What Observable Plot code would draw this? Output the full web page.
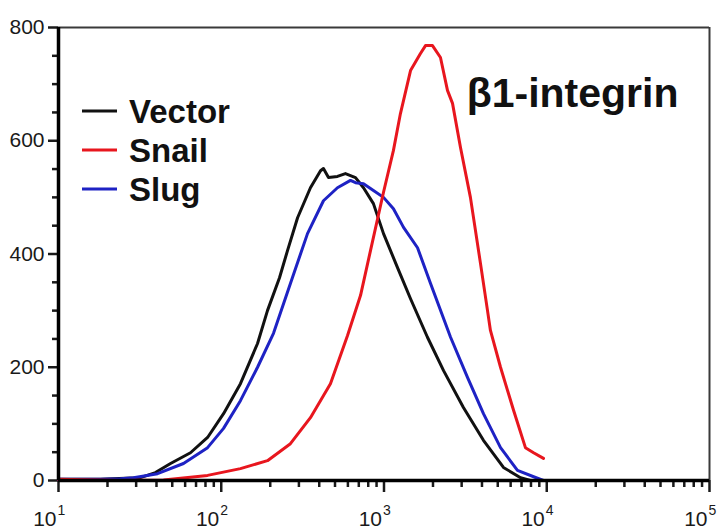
<!DOCTYPE html>
<html><head><meta charset="utf-8">
<script src="https://cdn.jsdelivr.net/npm/d3@7"></script>
<script src="https://cdn.jsdelivr.net/npm/@observablehq/plot@0.6"></script>
<style>
body{margin:0;background:#fff}
#chart{position:relative;width:720px;height:530px}
g[aria-label="y-axis tick"], g[aria-label="x-axis tick"] { stroke-width: 2.5px; }
</style>
</head><body><div id="chart"></div>
<script>
const seriesNames = ["Vector", "Snail", "Slug"];
const seriesColors = ["#111111", "#e8161e", "#1e22c4"];

const vectorX = [10,18.1,25.8,31.9,39.4,48.8,64.7,82.4,103.3,131.2,167.1,192.3,228.0,255.3,294.4,353.2,407.4,424.6,456,517.6,579.4,668.3,748.2,861,993.1,1210.6,1455.5,1849.3,2322.7,3076.1,4083.2,5420,6902.4,7943.3];
const vectorY = [2,2,4,5,14,30,49,76,118,171,242,300,358,406,464,517,547,551,535,537,542,535,517,489,436,376,321,253,194,129,71,23,5,0];

const slugX = [10,18.1,24.0,28.9,40.6,58.6,82.4,103.3,131.2,167.1,209.4,266.1,338.8,424.6,517.6,622.3,668.3,748.2,861,993.1,1142.9,1318.3,1607,1932,2564.5,3258.4,4083.2,5199.6,6606.9,8770,9549.9];
const slugY = [2,2,3,5,12,30,58,92,141,200,260,348,436,494,517,530,526,524,512,500,480,447,411,348,253,182,118,58,18,4,0];

const snailX = [10,24.0,44.2,82.4,131.2,192.3,266.1,353.2,468.8,597,717.8,826,993.1,1142.9,1261.8,1455.5,1674.9,1798.9,1986.1,2223.3,2454.7,2636.3,2951.2,3396.3,3917.3,4325.1,4508.2,5199.6,6251.7,7396.1,8298.5,9549.9];
const snailY = [2,0,1,9,21,35,65,111,171,256,327,406,509,583,648,724,754,768,768,747,689,666,588,500,383,300,265,200,124,58,49,39];

const yMajorTicks = [0,200,400,600,800];
const yMinorTicks = [50,100,150,250,300,350,450,500,550,650,700,750];
const xMajorTicks = [10,100,1000,10000,100000];
const xMinorTicks = [20,30,40,50,60,70,80,90,200,300,400,500,600,700,800,900,2000,3000,4000,5000,6000,7000,8000,9000,20000,30000,40000,50000,60000,70000,80000,90000];
const xTickBase = "10";
const xTickExponents = ["1","2","3","4","5"];
const titleText = "β1-integrin";

const rows = [];
[[vectorX, vectorY, "Vector"], [slugX, slugY, "Slug"], [snailX, snailY, "Snail"]].forEach(([xs, ys, n]) =>
  xs.forEach((x, i) => rows.push({series: n, x, y: ys[i]})));

const fontFamily = '"Liberation Sans", Arial, Helvetica, sans-serif';

const plot = Plot.plot({
  width: 720, height: 530,
  marginLeft: 58, marginRight: 11, marginTop: 27, marginBottom: 50,
  x: {type: "log", domain: [10, 1e5]},
  y: {domain: [0, 800]},
  color: {domain: seriesNames, range: seriesColors},
  style: {fontFamily, background: "#fff", color: "#1a1a1a", overflow: "visible"},
  marks: [
    Plot.ruleY([800], {stroke: "#3a3a3a", strokeWidth: 2}),
    Plot.ruleX([1e5], {stroke: "#3a3a3a", strokeWidth: 2}),
    Plot.axisY({ticks: yMinorTicks, tickSize: 6, tickFormat: () => "", strokeWidth: 2.5, label: null}),
    Plot.axisY({ticks: yMajorTicks, tickSize: 10, tickPadding: 4, fontSize: 21, strokeWidth: 2.5, label: null}),
    Plot.axisX({ticks: xMinorTicks, tickSize: 7, tickFormat: () => "", strokeWidth: 2.5, label: null}),
    Plot.axisX({ticks: xMajorTicks, tickSize: 12, tickFormat: () => "", strokeWidth: 2.5, label: null}),
    Plot.text(xMajorTicks, {x: d => d, frameAnchor: "bottom", text: () => xTickBase, textAnchor: "end", dx: -2, dy: 39, fontSize: 21, lineAnchor: "middle"}),
    Plot.text(xMajorTicks, {x: d => d, frameAnchor: "bottom", text: (d, i) => xTickExponents[i], textAnchor: "start", dx: -1, dy: 30, fontSize: 14, lineAnchor: "middle"}),
    Plot.line(rows, {x: "x", y: "y", stroke: "series", z: "series", strokeWidth: 3}),
    Plot.ruleX([10], {stroke: "#000", strokeWidth: 3.5}),
    Plot.ruleY([0], {stroke: "#000", strokeWidth: 3.5}),
    Plot.text([titleText], {frameAnchor: "top-right", dx: -31, dy: 66, textAnchor: "end", lineAnchor: "middle", fontSize: 41, fontWeight: "bold", fill: "#111"})
  ]
});

// in-plot legend
const svg = d3.select(plot);
const lg = svg.append("g").attr("font-family", fontFamily).attr("font-weight", "bold")
  .attr("font-size", 33).attr("fill", "#111").attr("text-anchor", "start");
seriesNames.forEach((name, i) => {
  const cy = 111 + i * 39;
  lg.append("line").attr("x1", 82).attr("x2", 117).attr("y1", cy).attr("y2", cy)
    .attr("stroke", seriesColors[i]).attr("stroke-width", 3);
  lg.append("text").attr("x", 129).attr("y", cy).attr("dy", "0.36em").text(name);
});

document.getElementById("chart").appendChild(plot);
</script>
</body></html>
